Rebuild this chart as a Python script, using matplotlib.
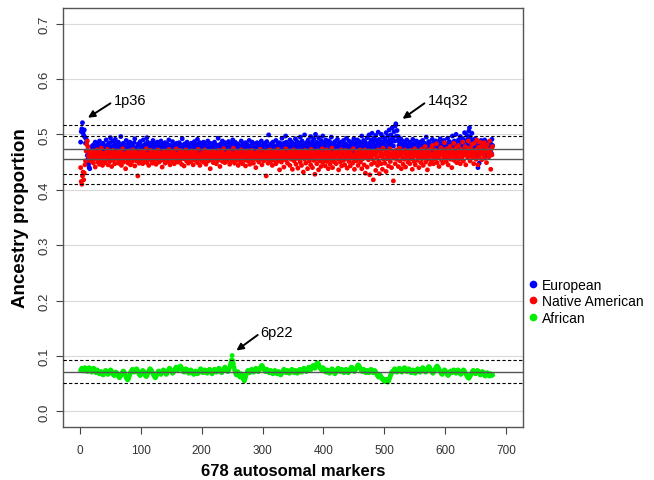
import numpy as np
import matplotlib
matplotlib.use("Agg")
from matplotlib import pyplot as plt
from matplotlib.lines import Line2D

plt.rcParams['font.family'] = ['Liberation Sans', 'DejaVu Sans']

# ancestry proportions per marker (thousandths)
european = [
    486, 505, 510, 521, 503, 498, 508, 495, 484, 492, 470, 462, 455, 446, 440, 438, 452, 466, 478, 470,
    474, 481, 468, 477, 486, 472, 465, 479, 483, 470, 476, 488, 471, 463, 480, 475, 469, 484, 478, 472,
    466, 479, 490, 473, 468, 482, 476, 471, 485, 494, 477, 469, 474, 488, 480, 467, 472, 491, 483, 476,
    470, 478, 486, 465, 473, 481, 496, 479, 468, 475, 484, 471, 466, 480, 477, 489, 473, 469, 482, 476,
    471, 486, 478, 463, 474, 481, 470, 468, 485, 492, 476, 472, 460, 455, 479, 483, 470, 466, 487, 474,
    480, 469, 476, 490, 473, 458, 482, 477, 471, 494, 486, 468, 475, 480, 472, 466, 484, 478, 471, 489,
    476, 470, 483, 465, 479, 474, 486, 469, 477, 481, 472, 467, 488, 475, 470, 483, 478, 466, 473, 485,
    479, 471, 468, 482, 476, 490, 473, 466, 480, 475, 471, 487, 478, 469, 474, 481, 467, 476, 484, 472,
    470, 478, 485, 474, 466, 481, 476, 492, 471, 468, 479, 483, 473, 467, 477, 486, 480, 469, 474, 482,
    475, 468, 484, 478, 471, 463, 480, 487, 473, 476, 469, 482, 491, 474, 466, 479, 485, 472, 470, 481,
    477, 470, 486, 474, 468, 483, 479, 465, 472, 488, 476, 471, 480, 484, 469, 475, 482, 473, 467, 479,
    486, 474, 470, 481, 477, 468, 493, 480, 472, 475, 483, 469, 476, 488, 471, 466, 479, 485, 474, 470,
    482, 476, 469, 487, 473, 479, 466, 484, 477, 471, 490, 475, 468, 481, 486, 472, 470, 478, 483, 474,
    469, 480, 476, 472, 488, 474, 467, 483, 479, 471, 476, 485, 470, 466, 481, 477, 473, 489, 475, 468,
    480, 474, 486, 471, 477, 469, 483, 478, 472, 466, 485, 476, 470, 482, 474, 479, 467, 488, 473, 471,
    481, 476, 469, 484, 478, 472, 487, 475, 466, 499, 480, 473, 470, 483, 477, 468, 486, 474, 479, 471,
    476, 489, 472, 468, 482, 478, 465, 485, 474, 470, 481, 493, 476, 469, 484, 479, 472, 497, 486, 475,
    470, 482, 477, 468, 490, 474, 480, 486, 471, 466, 478, 483, 475, 492, 469, 473, 487, 480, 476, 470,
    484, 495, 472, 478, 488, 469, 476, 481, 499, 474, 470, 485, 479, 466, 490, 477, 483, 472, 496, 480,
    475, 487, 469, 492, 481, 476, 500, 473, 486, 479, 468, 494, 483, 477, 471, 489, 480, 474, 497, 485,
    478, 470, 484, 490, 473, 481, 476, 467, 488, 479, 472, 485, 495, 474, 469, 482, 477, 471, 487, 480,
    473, 478, 491, 476, 470, 484, 479, 467, 486, 474, 481, 472, 489, 477, 469, 483, 475, 493, 480, 471,
    476, 488, 472, 468, 482, 478, 486, 474, 470, 492, 479, 475, 484, 469, 477, 490, 481, 473, 487, 476,
    470, 483, 497, 478, 474, 489, 481, 468, 486, 476, 472, 494, 480, 475, 499, 484, 471, 490, 478, 502,
    486, 474, 493, 480, 477, 498, 489, 472, 484, 504, 479, 491, 476, 487, 500, 482, 474, 495, 486, 480,
    492, 478, 503, 487, 476, 497, 484, 508, 490, 481, 499, 486, 512, 494, 479, 505, 488, 515, 519, 497,
    507, 489, 496, 480, 486, 475, 492, 470, 483, 488, 474, 479, 466, 485, 472, 477, 490, 469, 481, 476,
    472, 486, 478, 468, 483, 475, 491, 470, 479, 484, 467, 476, 488, 473, 470, 482, 477, 465, 486, 474,
    480, 471, 489, 476, 469, 484, 478, 472, 495, 481, 474, 468, 487, 477, 470, 483, 479, 473, 491, 476,
    469, 485, 478, 472, 488, 475, 481, 466, 486, 479, 473, 492, 477, 470, 484, 480, 468, 489, 476, 472,
    483, 478, 470, 493, 481, 475, 487, 472, 468, 484, 479, 497, 476, 471, 488, 482, 474, 500, 486, 477,
    471, 490, 480, 474, 496, 485, 477, 469, 492, 483, 476, 503, 488, 479, 473, 498, 491, 482, 506, 512,
    496, 486, 478, 502, 490, 471, 484, 476, 492, 467, 480, 488, 462, 440, 474, 448, 482, 470, 489, 476,
    479, 485, 468, 473, 490, 477, 463, 481, 474, 469, 486, 460, 478, 472, 483, 466, 491, 480,
]
native_american = [
    440, 415, 410, 425, 432, 418, 430, 445, 452, 470, 482, 488, 478, 462, 458, 470, 452, 465, 460, 455,
    462, 448, 470, 456, 441, 465, 458, 472, 450, 463, 455, 446, 468, 459, 475, 452, 444, 466, 461, 457,
    449, 467, 454, 460, 473, 445, 463, 458, 451, 469, 456, 442, 464, 471, 453, 460, 447, 466, 458, 462,
    455, 470, 448, 463, 457, 452, 468, 444, 461, 474, 456, 450, 465, 459, 438, 467, 453, 462, 448, 470,
    460, 454, 445, 466, 458, 451, 472, 463, 456, 443, 469, 460, 452, 465, 425, 457, 448, 467, 461, 454,
    470, 458, 447, 463, 455, 468, 452, 460, 474, 449, 462, 456, 444, 466, 459, 471, 453, 461, 448, 465,
    457, 452, 469, 460, 446, 464, 455, 472, 458, 450, 463, 467, 453, 459, 441, 466, 461, 454, 470, 448,
    462, 456, 467, 451, 460, 473, 457, 445, 464, 458, 452, 469, 461, 455, 447, 466, 459, 474, 453, 462,
    450, 465, 458, 471, 454, 460, 446, 468, 462, 456, 443, 465, 459, 472, 452, 461, 457, 448, 467, 455,
    463, 451, 458, 470, 455, 445, 466, 460, 453, 468, 457, 462, 449, 473, 456, 460, 444, 465, 458, 452,
    467, 458, 450, 463, 472, 455, 446, 461, 469, 457, 452, 465, 459, 438, 468, 454, 462, 457, 449, 470,
    455, 464, 459, 447, 466, 461, 453, 471, 457, 442, 463, 458, 468, 451, 460, 474, 456, 449, 465, 460,
    452, 467, 461, 455, 470, 446, 463, 458, 452, 466, 459, 475, 454, 448, 462, 457, 469, 453, 460, 444,
    466, 456, 461, 450, 472, 458, 447, 464, 459, 453, 468, 443, 461, 456, 470, 452, 463, 458, 446, 467,
    458, 471, 453, 462, 448, 466, 457, 460, 440, 465, 454, 469, 458, 450, 463, 473, 455, 461, 445, 466,
    460, 452, 468, 456, 462, 425, 470, 455, 448, 464, 459, 472, 451, 463, 457, 444, 467, 460, 453, 470,
    456, 447, 465, 459, 473, 452, 461, 436, 466, 457, 450, 469, 462, 455, 441, 467, 459, 474, 453, 462,
    448, 465, 458, 470, 444, 461, 455, 467, 437, 460, 472, 452, 463, 457, 446, 468, 461, 439, 466, 455,
    470, 450, 462, 444, 467, 458, 432, 463, 455, 471, 448, 460, 466, 438, 457, 469, 452, 462, 445, 473,
    458, 440, 466, 453, 461, 428, 469, 455, 447, 463, 470, 436, 460, 452, 466, 442, 458, 474, 449, 463,
    455, 467, 443, 460, 472, 451, 464, 438, 457, 469, 446, 461, 453, 475, 440, 466, 458, 450, 468, 462,
    447, 463, 470, 455, 436, 466, 458, 450, 472, 443, 461, 467, 453, 459, 445, 471, 456, 463, 439, 468,
    460, 451, 466, 443, 470, 457, 462, 448, 474, 455, 437, 465, 459, 452, 469, 461, 444, 467, 456, 472,
    450, 463, 438, 468, 456, 461, 445, 472, 430, 458, 466, 441, 462, 454, 470, 427, 459, 467, 446, 463,
    455, 418, 470, 449, 463, 435, 466, 457, 444, 472, 452, 429, 461, 468, 447, 460, 437, 475, 455, 464,
    448, 470, 433, 462, 456, 468, 443, 459, 474, 451, 465, 440, 460, 470, 416, 457, 466, 447, 463, 472,
    455, 468, 442, 461, 475, 452, 464, 438, 470, 458, 446, 467, 455, 472, 441, 463, 459, 469, 450, 466,
    460, 447, 471, 456, 464, 437, 468, 459, 451, 474, 445, 462, 467, 453, 470, 458, 440, 466, 461, 449,
    473, 456, 463, 444, 469, 458, 478, 450, 465, 460, 436, 471, 455, 467, 446, 462, 474, 452, 480, 459,
    447, 466, 472, 455, 461, 483, 449, 468, 458, 442, 470, 463, 476, 454, 465, 448, 472, 460, 485, 456,
    466, 451, 474, 459, 445, 469, 463, 478, 455, 468, 440, 472, 461, 484, 453, 466, 458, 476, 449, 470,
    462, 480, 455, 468, 447, 473, 466, 459, 486, 452, 470, 463, 478, 445, 467, 474, 458, 488, 461, 469,
    452, 476, 465, 482, 458, 470, 447, 484, 463, 472, 455, 490, 468, 445, 477, 460, 486, 466, 473, 454,
    479, 468, 462, 485, 457, 470, 476, 449, 481, 465, 472, 460, 488, 467, 437, 474, 463, 478,
]
african = [
    74, 76, 78, 77, 75, 73, 76, 79, 78, 76, 74, 72, 75, 77, 79, 78, 76, 73, 71, 74,
    76, 78, 77, 74, 72, 70, 73, 75, 74, 71, 69, 68, 70, 72, 71, 69, 67, 66, 68, 70,
    72, 74, 73, 71, 69, 67, 68, 71, 73, 75, 74, 72, 70, 68, 66, 65, 67, 69, 71, 70,
    68, 66, 64, 62, 61, 63, 65, 67, 69, 71, 73, 72, 70, 67, 64, 61, 59, 57, 58, 61,
    64, 67, 70, 72, 74, 76, 75, 73, 71, 72, 74, 76, 77, 75, 73, 70, 68, 66, 65, 67,
    70, 72, 74, 73, 71, 68, 66, 64, 63, 65, 68, 71, 73, 75, 77, 76, 74, 72, 70, 68,
    66, 64, 62, 61, 63, 66, 69, 71, 73, 72, 70, 68, 67, 69, 71, 73, 75, 74, 72, 70,
    68, 67, 69, 72, 74, 76, 78, 77, 75, 73, 71, 69, 70, 72, 74, 76, 78, 80, 79, 77,
    75, 77, 79, 81, 82, 80, 78, 76, 74, 72, 71, 73, 75, 77, 76, 74, 72, 70, 69, 71,
    73, 75, 74, 72, 70, 68, 67, 69, 71, 73, 72, 70, 68, 69, 71, 73, 75, 77, 76, 74,
    72, 70, 71, 73, 75, 74, 72, 70, 69, 71, 73, 75, 76, 74, 72, 70, 68, 70, 72, 74,
    76, 75, 73, 71, 72, 74, 76, 78, 77, 75, 73, 71, 70, 72, 74, 76, 78, 80, 79, 77,
    75, 73, 72, 74, 77, 80, 84, 88, 93, 101, 92, 86, 80, 75, 71, 68, 66, 69, 72, 70,
    67, 64, 62, 65, 68, 66, 63, 60, 57, 55, 58, 62, 66, 69, 72, 74, 73, 71, 70, 72,
    74, 76, 75, 73, 71, 72, 74, 76, 78, 77, 75, 73, 72, 74, 76, 78, 80, 82, 83, 81,
    79, 77, 75, 73, 72, 74, 76, 75, 73, 71, 70, 72, 74, 73, 71, 69, 68, 70, 72, 74,
    73, 71, 69, 68, 70, 72, 71, 69, 67, 66, 68, 70, 72, 74, 76, 75, 73, 71, 70, 72,
    74, 73, 71, 69, 70, 72, 74, 76, 75, 73, 71, 70, 72, 74, 73, 71, 69, 70, 72, 74,
    76, 75, 73, 71, 72, 74, 76, 78, 77, 75, 73, 72, 74, 76, 78, 80, 79, 77, 75, 77,
    79, 81, 83, 82, 80, 78, 80, 83, 86, 88, 87, 85, 82, 80, 78, 76, 75, 77, 79, 78,
    76, 74, 72, 71, 73, 75, 74, 72, 70, 69, 71, 73, 75, 77, 76, 74, 72, 70, 68, 70,
    72, 74, 76, 78, 77, 75, 73, 72, 74, 76, 75, 73, 71, 70, 72, 74, 76, 75, 73, 71,
    70, 72, 74, 76, 78, 80, 79, 77, 75, 73, 72, 74, 76, 78, 80, 82, 84, 83, 81, 79,
    77, 75, 73, 72, 74, 76, 75, 73, 71, 70, 72, 74, 73, 71, 70, 72, 74, 76, 75, 73,
    71, 70, 72, 74, 73, 71, 69, 67, 65, 63, 62, 64, 66, 64, 62, 60, 58, 59, 57, 55,
    54, 56, 58, 56, 54, 53, 55, 58, 61, 64, 67, 70, 72, 71, 73, 75, 77, 76, 74, 72,
    71, 73, 75, 77, 78, 76, 74, 72, 71, 73, 75, 77, 79, 78, 76, 74, 72, 73, 75, 77,
    76, 74, 72, 70, 71, 73, 75, 74, 72, 70, 69, 71, 73, 75, 77, 76, 74, 72, 71, 73,
    75, 77, 79, 78, 76, 74, 72, 71, 73, 75, 77, 79, 81, 80, 78, 76, 74, 72, 70, 69,
    71, 73, 75, 77, 79, 81, 82, 80, 78, 76, 74, 72, 70, 68, 67, 69, 71, 73, 75, 74,
    72, 70, 68, 66, 65, 67, 69, 71, 73, 72, 70, 71, 73, 75, 74, 72, 70, 69, 71, 73,
    75, 74, 72, 70, 68, 67, 69, 71, 73, 75, 74, 72, 70, 68, 66, 64, 62, 61, 60, 62,
    64, 66, 68, 70, 72, 74, 73, 71, 69, 68, 70, 72, 74, 73, 71, 69, 67, 66, 68, 70,
    72, 71, 69, 67, 65, 64, 66, 68, 70, 69, 67, 65, 64, 66, 68, 67, 65, 66,
]

# mean lines (solid) and limits (dashed)
mean_lines = [0.474, 0.456, 0.0713]
limit_lines = [0.516, 0.497, 0.429, 0.411, 0.0924, 0.0508]

labels = ["European", "Native American", "African"]
colors = ["#0000ff", "#ff0000", "#00ee00"]

# annotations: text, arrow head (x, y), text position (x, y)
notes = [("1p36", (13, 0.530), (50, 0.556)),
         ("14q32", (530, 0.528), (566, 0.556)),
         ("6p22", (257, 0.110), (292, 0.138))]

series = [np.array(european) / 1000, np.array(native_american) / 1000, np.array(african) / 1000]

fig = plt.figure(figsize=(6.54, 4.81), dpi=100)
ax = fig.add_axes([0.0963, 0.1102, 0.7034, 0.8711])

for y in np.arange(0, 0.71, 0.1):
    ax.axhline(y, color="#d9d9d9", lw=0.8, zorder=0)

for s, c in zip(series, colors):
    ax.scatter(np.arange(1, len(s) + 1), s, s=12, color=c, edgecolors='none', zorder=2)

for y in mean_lines:
    ax.axhline(y, color="#555555", lw=1.0, zorder=3)
for y in limit_lines:
    ax.axhline(y, color="black", lw=0.8, ls=(0, (3, 2)), zorder=3)

for txt, head, tail in notes:
    ax.annotate("", xy=head, xytext=tail,
                arrowprops=dict(arrowstyle="-|>", color="black", lw=1.4,
                                mutation_scale=10, shrinkA=0, shrinkB=0))
    ax.text(tail[0] + 5, tail[1] + 0.006, txt, fontsize=10.5, va="center", ha="left")

ax.set_xlim(-28, 728)
ax.set_ylim(-0.028, 0.728)
ax.set_xticks(np.arange(0, 701, 100))
ax.set_yticks(np.arange(0, 0.71, 0.1))
ax.set_yticklabels(["%.1f" % v for v in np.arange(0, 0.71, 0.1)], rotation=90, va="center")
ax.tick_params(length=5, color="#444444", labelcolor="#333333")
ax.tick_params(axis="x", labelsize=8.5, pad=7)
ax.tick_params(axis="y", labelsize=9.5, pad=4)
for sp in ax.spines.values():
    sp.set_color("#555555")
    sp.set_linewidth(1.0)

ax.set_xlabel("678 autosomal markers", fontsize=12, fontweight="bold", labelpad=5)
ax.set_ylabel("Ancestry proportion", fontsize=13.5, fontweight="bold", labelpad=7)

handles = [Line2D([], [], marker="o", ls="none", color=c, markersize=4.5) for c in colors]
ax.legend(handles, labels, loc="center left", bbox_to_anchor=(0.995, 0.30), frameon=False,
          fontsize=10, handletextpad=0.1, borderaxespad=0.0, labelspacing=0.2, handlelength=1.0)

plt.savefig('out.png', dpi=100)
